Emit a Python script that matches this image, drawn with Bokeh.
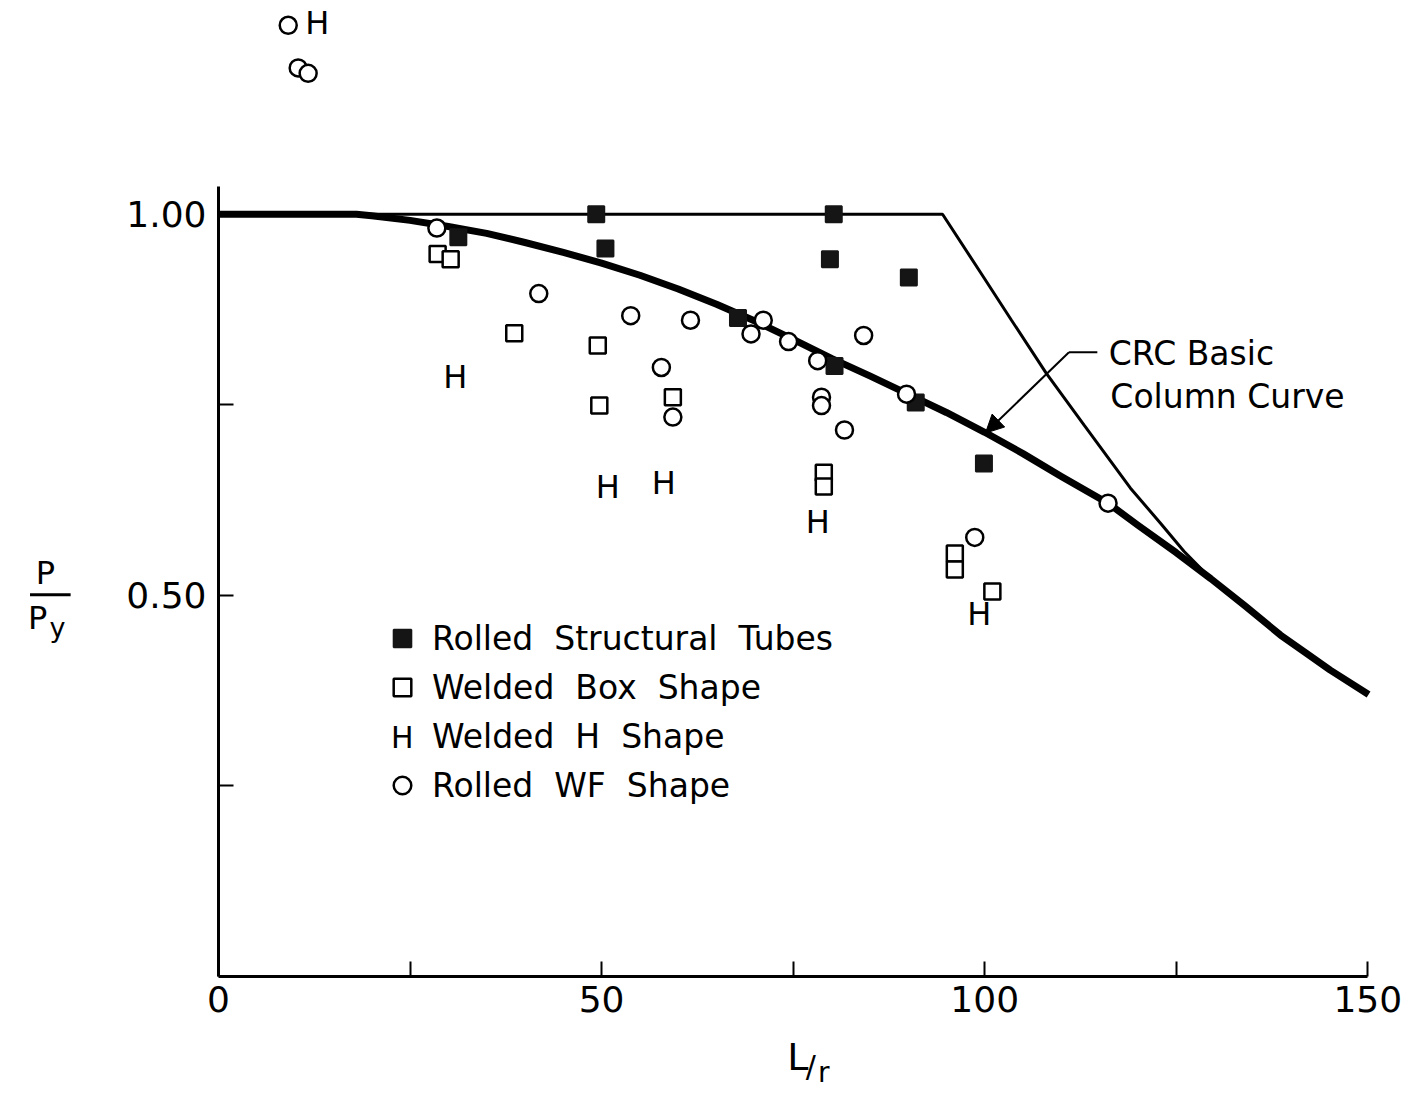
from bokeh.plotting import figure
from bokeh.models import (Range1d, FixedTicker, Legend, LegendItem, Label, Arrow,
                          NormalHead, PrintfTickFormatter)
from bokeh.core.properties import value
from bokeh.embed import file_html
from bokeh.resources import INLINE

FONT = "DejaVu Sans"

# ---- data (x = L/r, y = P/Py) ----
tubes_x = [31.3, 49.3, 50.5, 67.8, 80.3, 79.8, 80.4, 90.1, 91.0, 99.9]
tubes_y = [0.970, 1.000, 0.955, 0.864, 1.000, 0.941, 0.801, 0.917, 0.753, 0.673]

box_x = [28.6, 30.3, 38.6, 49.5, 49.7, 59.3, 79.0, 79.0, 96.1, 96.1, 101.0]
box_y = [0.948, 0.941, 0.844, 0.828, 0.749, 0.760, 0.661, 0.643, 0.555, 0.534, 0.505]

h_x = [12.9, 30.9, 50.8, 58.1, 78.2, 99.3]
h_y = [1.251, 0.787, 0.642, 0.648, 0.596, 0.475]

wf_x = [9.1, 10.4, 11.7, 28.5, 41.8, 53.8, 57.8, 59.3, 61.6, 69.5, 71.1, 74.4,
        78.2, 78.7, 78.7, 81.7, 84.2, 89.8, 98.7, 116.1]
wf_y = [1.248, 1.192, 1.185, 0.982, 0.896, 0.867, 0.799, 0.734, 0.861, 0.843, 0.861, 0.833,
        0.808, 0.760, 0.749, 0.717, 0.841, 0.764, 0.576, 0.621]

# CRC basic column curve (thick)
crc_x = [0, 18, 20, 25, 30, 35, 40, 45, 50, 55, 60, 65, 70, 75, 80, 85, 90, 95,
         100, 105, 110, 116.1, 120, 125, 129.5, 134, 138.6, 142, 145.1, 150.1]
crc_y = [1.000, 1.000, 0.998, 0.992, 0.984, 0.975, 0.963, 0.950, 0.936, 0.920, 0.902,
         0.882, 0.860, 0.836, 0.811, 0.788, 0.764, 0.740, 0.714, 0.686, 0.656, 0.621,
         0.592, 0.556, 0.522, 0.486, 0.448, 0.424, 0.402, 0.370]

# upper (thin) curve
up_x = [0, 94.5, 99.5, 103.5, 108.0, 113.0, 119.0, 123.0, 126.0, 129.5]
up_y = [1.000, 1.000, 0.923, 0.861, 0.792, 0.723, 0.641, 0.594, 0.558, 0.522]

legend_labels = ["Rolled  Structural  Tubes", "Welded  Box  Shape",
                 "Welded  H  Shape", "Rolled  WF  Shape"]

x_ticks = [0, 50, 100, 150]
x_minor = [25, 75, 125]
y_ticks = [0.50, 1.00]
y_minor = [0.25, 0.75]

PX = 7.662   # pixels per L/r unit (frame layout only)
PY = 762.2   # pixels per P/Py unit (frame layout only)

p = figure(width=1408, height=1093, output_backend="svg", toolbar_location=None,
           x_range=Range1d(-218 / PX, (1408 - 218) / PX),
           y_range=Range1d(-117 / PY, 1.270),
           min_border_left=0, min_border_right=0, min_border_top=8,
           min_border_bottom=0)
p.outline_line_color = None
p.grid.visible = False
p.background_fill_color = "white"
p.border_fill_color = "white"

for ax in (p.xaxis[0], p.yaxis[0]):
    ax.axis_line_width = 3
    ax.axis_line_color = "black"
    ax.major_tick_in = 15
    ax.major_tick_out = 0
    ax.minor_tick_in = 15
    ax.minor_tick_out = 0
    ax.major_tick_line_width = 2
    ax.minor_tick_line_width = 2
    ax.major_label_text_font = FONT
    ax.major_label_text_font_size = "36px"
    ax.major_label_text_color = "black"

p.xaxis.ticker = FixedTicker(ticks=x_ticks, minor_ticks=x_minor)
p.xaxis.bounds = (0, 150)
p.xaxis.major_label_standoff = 10
p.xaxis.fixed_location = 0

p.yaxis.ticker = FixedTicker(ticks=y_ticks, minor_ticks=y_minor)
p.yaxis.formatter = PrintfTickFormatter(format="%.2f")
p.yaxis.bounds = (0, 1.037)
p.yaxis.major_label_standoff = 12
p.yaxis.fixed_location = 0

# curves
p.line(up_x, up_y, line_color="black", line_width=3)
p.line(crc_x, crc_y, line_color="black", line_width=7, line_join="round")

# data points
r_tubes = p.scatter(tubes_x, tubes_y, marker="square", size=16,
                    fill_color="#151515", line_color="#151515", line_width=2)
r_box = p.scatter(box_x, box_y, marker="square", size=16,
                  fill_color="white", line_color="black", line_width=2.5)
r_h = p.text(h_x, h_y, text=["H"] * len(h_x), text_font=value(FONT),
             text_font_size="32px", text_align="center", text_baseline="middle",
             text_color="black")
r_wf = p.scatter(wf_x, wf_y, marker="circle", size=17,
                 fill_color="white", line_color="black", line_width=2.5)

legend = Legend(items=[LegendItem(label=legend_labels[0], renderers=[r_tubes]),
                       LegendItem(label=legend_labels[1], renderers=[r_box]),
                       LegendItem(label=legend_labels[2], renderers=[r_h]),
                       LegendItem(label=legend_labels[3], renderers=[r_wf])],
                location=(380, 286), glyph_width=44, glyph_height=44, spacing=5,
                padding=0, margin=0, label_standoff=8, border_line_color=None,
                background_fill_alpha=0, label_text_font=FONT,
                label_text_font_size="33px", label_text_color="black")
p.add_layout(legend)
# the text glyph has no legend swatch of its own: put its "H" in the swatch slot
p.add_layout(Label(x=24.0, y=0.313, text="H", text_font=FONT, text_font_size="30px",
                   text_align="center", text_baseline="middle", text_color="black"))

# annotation: CRC Basic Column Curve
p.add_layout(Label(x=116.2, y=0.818, text="CRC  Basic", text_font=FONT,
                   text_font_size="33px", text_baseline="middle", text_color="black"))
p.add_layout(Label(x=116.4, y=0.761, text="Column  Curve", text_font=FONT,
                   text_font_size="33px", text_baseline="middle", text_color="black"))
p.add_layout(Arrow(x_start=114.7, y_start=0.819, x_end=111.0, y_end=0.819,
                   end=None, line_width=2, line_color="black"))
p.add_layout(Arrow(x_start=111.0, y_start=0.819, x_end=100.1, y_end=0.713,
                   end=NormalHead(size=18, fill_color="black", line_color="black"),
                   line_width=2, line_color="black"))

# y-axis title P / Py
p.add_layout(Label(x=-22.6, y=0.530, text="P", text_font=FONT, text_font_size="32px",
                   text_align="center", text_baseline="middle", text_color="black"))
p.add_layout(Arrow(x_start=-24.6, y_start=0.501, x_end=-19.3, y_end=0.501,
                   end=None, line_width=3, line_color="black"))
p.add_layout(Label(x=-23.6, y=0.471, text="P", text_font=FONT, text_font_size="32px",
                   text_align="center", text_baseline="middle", text_color="black"))
p.add_layout(Label(x=-21.0, y=0.458, text="y", text_font=FONT, text_font_size="27px",
                   text_align="center", text_baseline="middle", text_color="black"))

# x-axis title L/r
p.add_layout(Label(x=75.6, y=-0.105, text="L", text_font=FONT, text_font_size="38px",
                   text_align="center", text_baseline="middle", text_color="black"))
p.add_layout(Label(x=77.3, y=-0.118, text="/", text_font=FONT, text_font_size="30px",
                   text_align="center", text_baseline="middle", text_color="black"))
p.add_layout(Label(x=79.0, y=-0.126, text="r", text_font=FONT, text_font_size="28px",
                   text_align="center", text_baseline="middle", text_color="black"))

open("out.html", "w").write(file_html(p, INLINE))
